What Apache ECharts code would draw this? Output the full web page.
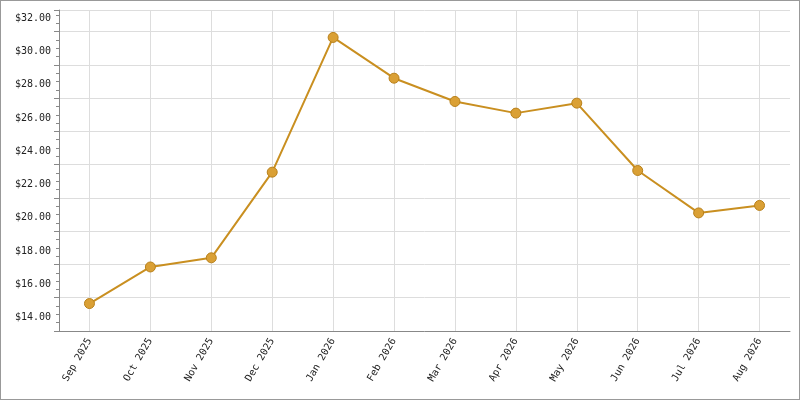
<!DOCTYPE html><html><head><meta charset="utf-8"><script src="https://cdn.jsdelivr.net/npm/echarts@6/dist/echarts.min.js"></script>
<style>html,body{margin:0;padding:0}#c{width:798px;height:398px;border:1px solid #999}</style></head><body><div id="c"></div><script>
const categories=['Sep 2025','Oct 2025','Nov 2025','Dec 2025','Jan 2026','Feb 2026','Mar 2026','Apr 2026','May 2026','Jun 2026','Jul 2026','Aug 2026'];
const values=[14.85,17.05,17.6,22.75,30.85,28.4,27.0,26.3,26.9,22.85,20.3,20.75];
const chart=echarts.init(document.getElementById('c'));
const font='DejaVu Sans Mono';
chart.setOption({animation:false,
grid:{left:58,right:9,top:9,bottom:68},
xAxis:{type:'category',data:categories,boundaryGap:true,
 axisLine:{lineStyle:{color:'#888'}},axisTick:{alignWithLabel:true,lineStyle:{color:'#888'}},
 axisLabel:{rotate:60,fontFamily:font,fontSize:10,color:'#222',margin:8},
 splitLine:{show:true,alignWithLabel:true,lineStyle:{color:'#ddd'}}},
yAxis:{type:'value',min:13.2,max:32.5,interval:2,
 axisLine:{show:true,lineStyle:{color:'#888'}},axisTick:{show:true,lineStyle:{color:'#888'}},
 minorTick:{show:true,splitNumber:4,lineStyle:{color:'#888'}},
 axisLabel:{fontFamily:font,fontSize:10,color:'#222',formatter:v=>Number.isInteger(v)&&v%2===0?'$'+v.toFixed(2):'',customValues:[14,16,18,20,22,24,26,28,30,32]},
 splitLine:{lineStyle:{color:'#ddd'}}},
series:[{type:'line',data:values,symbol:'circle',symbolSize:10,
 lineStyle:{color:'#c98f20',width:2},itemStyle:{color:'#daa035',borderColor:'#b8801a',borderWidth:1}}]});
</script></body></html>
